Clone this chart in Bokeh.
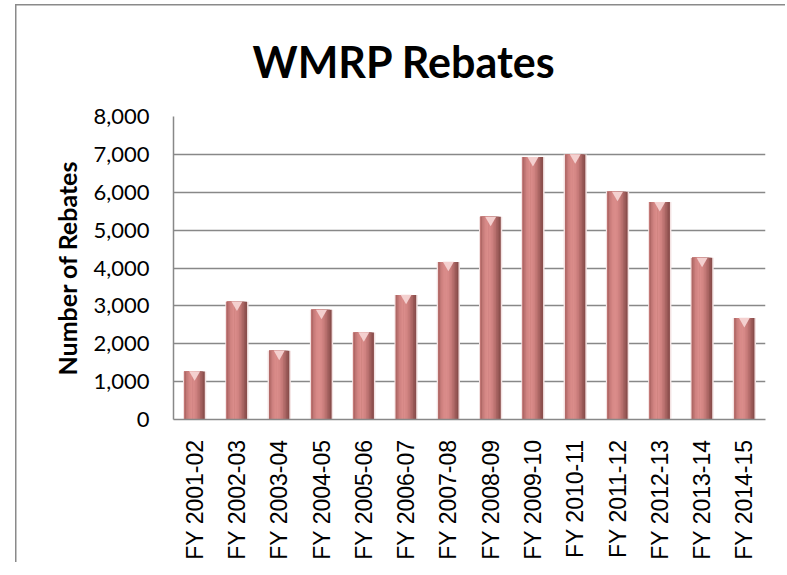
from math import pi
from bokeh.plotting import figure
from bokeh.layouts import column
from bokeh.models import ColumnDataSource, FactorRange, Range1d, FixedTicker, NumeralTickFormatter
from bokeh.transform import dodge
from bokeh.embed import file_html
from bokeh.resources import INLINE

categories = ["FY 2001-02", "FY 2002-03", "FY 2003-04", "FY 2004-05", "FY 2005-06",
              "FY 2006-07", "FY 2007-08", "FY 2008-09", "FY 2009-10", "FY 2010-11",
              "FY 2011-12", "FY 2012-13", "FY 2013-14", "FY 2014-15"]
rebates = [1270, 3110, 1815, 2895, 2300, 3290, 4160, 5350, 6930, 7000, 6010, 5740, 4270, 2680]
y_ticks = [0, 1000, 2000, 3000, 4000, 5000, 6000, 7000, 8000]

src = ColumnDataSource(data=dict(cat=categories, val=rebates))

p = figure(width=770, height=562, x_range=FactorRange(*categories), y_range=Range1d(0, 8000),
           output_backend="svg", toolbar_location=None,
           min_border_left=158, min_border_right=20, min_border_top=116, min_border_bottom=142)
p.border_fill_color = None
p.background_fill_color = None

p.title.text = "WMRP Rebates"
p.title.text_font = "Lato"
p.title.text_font_style = "bold"
p.title.text_font_size = "43px"
p.title.align = "left"
p.title.offset = 79
p.title.standoff = 60
p.title.text_color = "#000000"

p.outline_line_color = None
p.xgrid.grid_line_color = None
p.ygrid.grid_line_color = "#888888"
p.ygrid.grid_line_width = 1.5

p.yaxis.ticker = FixedTicker(ticks=y_ticks)
p.yaxis.formatter = NumeralTickFormatter(format="0,0")
p.yaxis.major_label_text_font = "Lato"
p.yaxis.major_label_text_font_size = "22px"
p.yaxis.major_label_text_color = "#000000"
p.yaxis.major_tick_line_color = None
p.yaxis.minor_tick_line_color = None
p.yaxis.major_label_standoff = 18
p.yaxis.axis_line_color = "#888888"
p.yaxis.axis_line_width = 1.5
p.yaxis.axis_label = "Number of Rebates"
p.yaxis.axis_label_text_font = "Lato"
p.yaxis.axis_label_text_font_style = "bold"
p.yaxis.axis_label_text_font_size = "25px"
p.yaxis.axis_label_text_color = "#000000"
p.yaxis.axis_label_standoff = 8

p.xaxis.major_label_orientation = pi / 2
p.xaxis.major_label_text_font = "Liberation Sans"
p.xaxis.major_label_text_font_size = "23px"
p.xaxis.major_label_text_color = "#000000"
p.xaxis.major_tick_line_color = None
p.xaxis.minor_tick_line_color = None
p.xaxis.major_label_standoff = 14
p.xaxis.axis_line_color = "#888888"
p.xaxis.axis_line_width = 1.5

# faint halo behind bars
p.vbar(x="cat", top="val", width=0.55, source=src, fill_color="#f3e2e2", line_color=None)

# cylinder-like shading built from nested layers (no seams)
bar_w = 0.48
peak = -0.06  # position of brightest band, relative to bar centre
right_shades = ["#8a4e4c", "#985856", "#a86462", "#b76f6d", "#c47977", "#cf8280", "#d68886", "#da8c8a"]
left_shades = ["#b06866", "#c27876", "#cf8280", "#d68886", "#da8c8a"]

nr = len(right_shades)
for i, c in enumerate(right_shades):
    right = bar_w / 2 - (bar_w / 2 - peak) * i / nr
    left = -bar_w / 2
    p.vbar(x=dodge("cat", (left + right) / 2, range=p.x_range), top="val",
           width=right - left, source=src, fill_color=c, line_color=None)

nl = len(left_shades)
for i, c in enumerate(left_shades):
    left = -bar_w / 2 + (peak + bar_w / 2) * i / nl
    right = peak
    p.vbar(x=dodge("cat", (left + right) / 2, range=p.x_range), top="val",
           width=right - left, source=src, fill_color=c, line_color=None)

# light highlight at the top of each bar
p.scatter(x="cat", y=dodge("val", -80, range=p.y_range), marker="inverted_triangle",
          size=11, source=src, fill_color="#f4d0cf", line_color=None)

# chart-area border: left edge and a top edge 4px below the page top
layout = column(p, margin=(0, 0, 0, 15),
                styles={"box-shadow": "inset 0 4px 0 0 #ffffff, inset 0 5.5px 0 0 #8a8a8a, inset 1.5px 0 0 0 #8a8a8a"})

open("out.html", "w").write(file_html(layout, INLINE))
